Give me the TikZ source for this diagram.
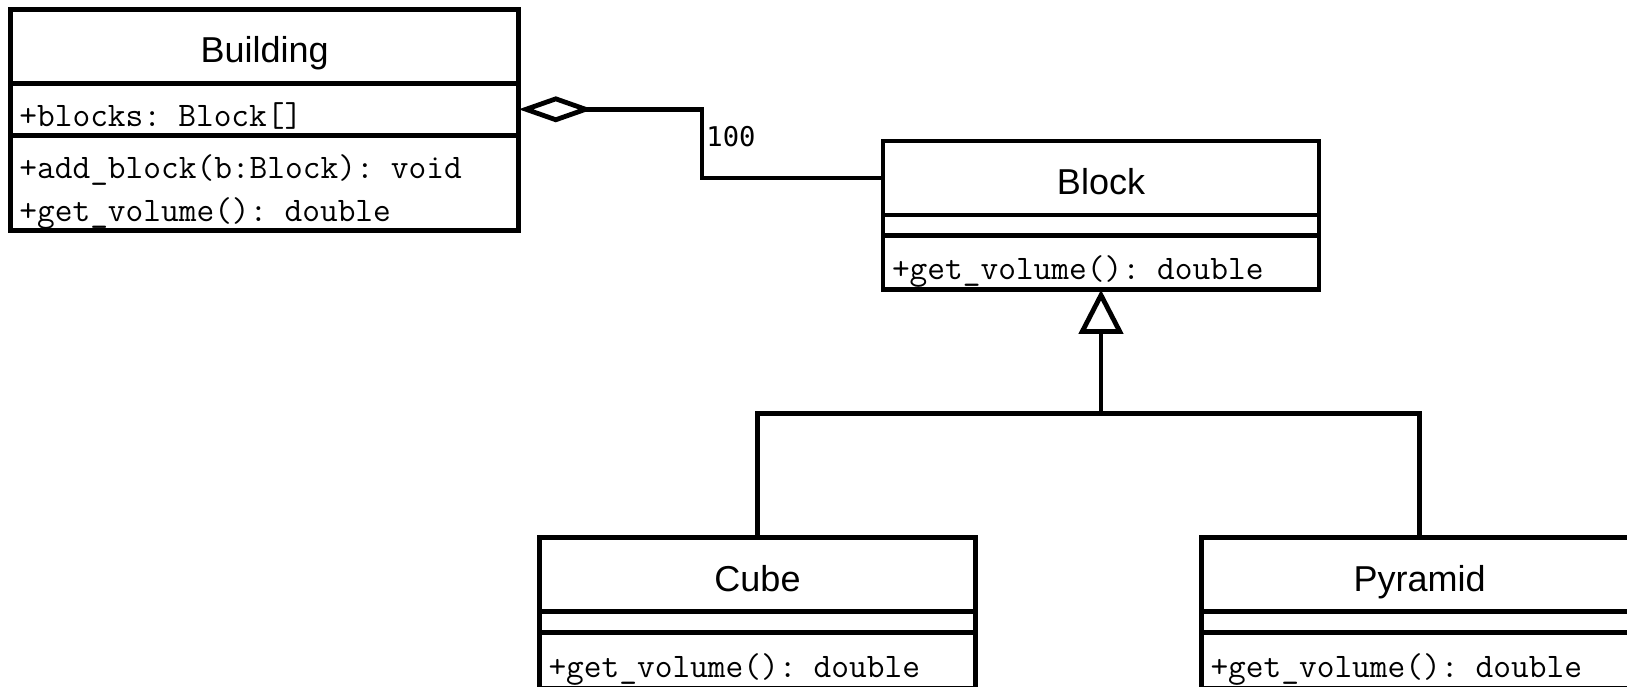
\documentclass[tikz,border=0pt]{standalone}
\usepackage{fontspec}
\setmainfont{Liberation Sans}
\newfontfamily\multfont{DejaVu Sans Mono}
\usetikzlibrary{positioning,arrows.meta}
\tikzset{
    classtitle/.style={
        draw, line width=2.4pt, outer sep=0pt, inner sep=0pt,
        minimum width=218pt, minimum height=37pt,
        text height=16.5pt, text depth=0pt,
        font=\fontsize{18}{21}\selectfont
    },
    members/.style={
        draw, line width=2.4pt, outer sep=0pt, inner xsep=4.5pt, inner ysep=0pt,
        minimum width=218pt, text width=209pt, align=left,
        text height=17pt, text depth=0pt,
        font=\ttfamily\fontsize{17.2}{21.9}\selectfont
    },
    emptybox/.style={
        draw, line width=2.4pt, outer sep=0pt, inner sep=0pt,
        minimum width=218pt, minimum height=10.4pt
    },
    conn/.style={line width=2.4pt}
}

\begin{document}
\begin{tikzpicture}
    \useasboundingbox (0,0) rectangle (813.5pt,-343pt);

    % Building
    \node[classtitle, minimum width=254.2pt, anchor=north west] (buildtitle) at (5.2pt,-4.65pt) {Building};
    \node[members, minimum width=254.2pt, text width=245.2pt, minimum height=26pt, below=0pt of buildtitle] (buildattr) {+blocks: Block[]};
    \node[members, minimum width=254.2pt, text width=245.2pt, minimum height=47.7pt, text depth=21.9pt, below=0pt of buildattr] (buildmeth) {+add\_block(b:Block): void\\+get\_volume(): double};

    % Block
    \node[classtitle, anchor=north west] (blocktitle) at (441.5pt,-70.5pt) {Block};
    \node[emptybox, below=0pt of blocktitle] (blockattr) {};
    \node[members, minimum height=27pt, below=0pt of blockattr] (blockmeth) {+get\_volume(): double};

    % Cube
    \node[classtitle, anchor=north west] (cubetitle) at (269.75pt,-268.75pt) {Cube};
    \node[emptybox, below=0pt of cubetitle] (cubeattr) {};
    \node[members, minimum height=28pt, below=0pt of cubeattr] (cubemeth) {+get\_volume(): double};

    % Pyramid
    \node[classtitle, anchor=north west] (pyrtitle) at (600.75pt,-268.75pt) {Pyramid};
    \node[emptybox, below=0pt of pyrtitle] (pyrattr) {};
    \node[members, minimum height=28pt, below=0pt of pyrattr] (pyrmeth) {+get\_volume(): double};

    % aggregation
    \draw[conn, {Diamond[open,length=37pt,width=13pt]}-] (buildattr.east) -- ++(91.6pt,0) coordinate (aggbend) |- (blocktitle.west);
    \node[below right=8.5pt and 2pt of aggbend, inner sep=0pt, font=\multfont\fontsize{13.6}{16}\selectfont] (mult) {100};

    % generalization
    \coordinate[below=61.75pt of blockmeth.south] (genjoin);
    \draw[conn, -{Triangle[open,length=22pt,width=22pt]}] (genjoin) -- (blockmeth.south);
    \draw[conn] (cubetitle.north) |- (genjoin) -| (pyrtitle.north);
\end{tikzpicture}
\end{document}
